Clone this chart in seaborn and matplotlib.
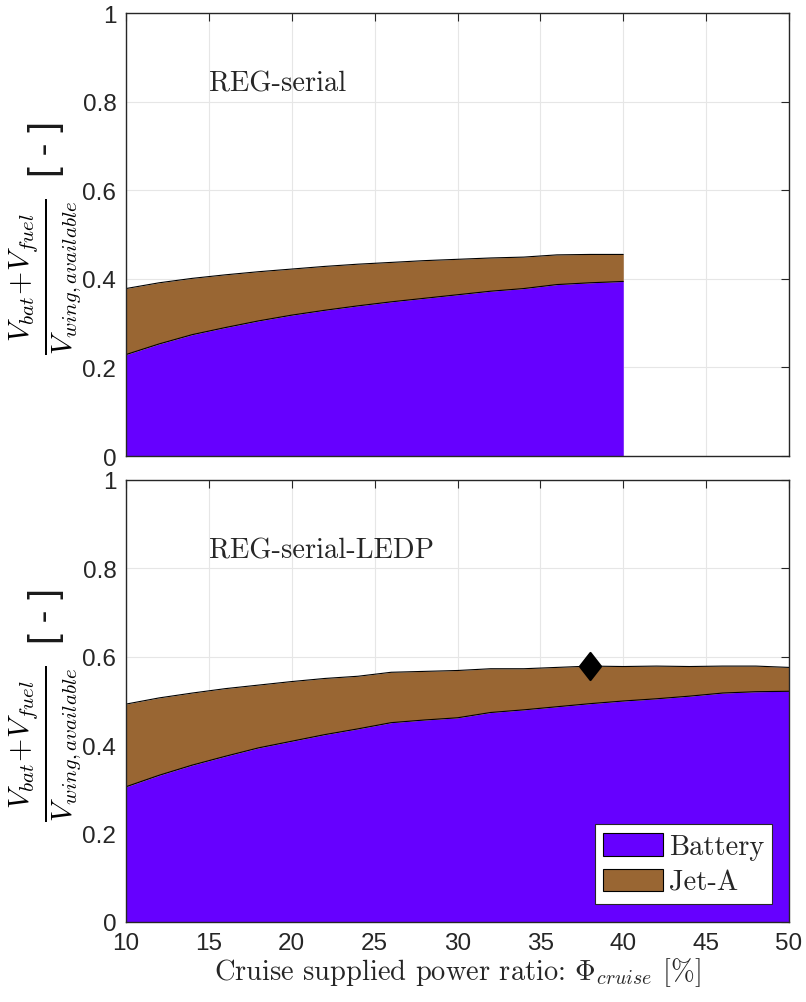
import numpy as np
import pandas as pd
import matplotlib
matplotlib.use("Agg")
import matplotlib.pyplot as plt
import seaborn as sns
from matplotlib.patches import Patch
from matplotlib.path import Path

# ---------------- data ----------------
x_top = [10, 12, 14, 16, 18, 20, 22, 24, 26, 28, 30, 32, 34, 36, 38, 40]
bat_top = [0.229, 0.253, 0.274, 0.290, 0.305, 0.318, 0.329, 0.339, 0.348, 0.356,
           0.364, 0.372, 0.378, 0.387, 0.391, 0.394]
tot_top = [0.378, 0.391, 0.401, 0.409, 0.416, 0.422, 0.428, 0.433, 0.437, 0.441,
           0.444, 0.447, 0.449, 0.454, 0.455, 0.455]

x_bot = [10, 12, 14, 16, 18, 20, 22, 24, 26, 28, 30, 32, 34, 36, 38, 40, 42, 44, 46, 48, 50]
bat_bot = [0.306, 0.332, 0.355, 0.375, 0.394, 0.409, 0.424, 0.437, 0.451, 0.457,
           0.462, 0.474, 0.480, 0.487, 0.494, 0.500, 0.505, 0.511, 0.518, 0.521, 0.522]
tot_bot = [0.493, 0.507, 0.518, 0.528, 0.536, 0.544, 0.551, 0.556, 0.565, 0.567,
           0.569, 0.573, 0.573, 0.576, 0.579, 0.578, 0.579, 0.578, 0.579, 0.579, 0.576]

opt_x = [38]
opt_y = [0.579]

titles = ["REG-serial", "REG-serial-LEDP"]
labels = ["Battery", "Jet-A"]
xticks = [10, 15, 20, 25, 30, 35, 40, 45, 50]
yticks = [0, 0.2, 0.4, 0.6, 0.8, 1]

c_bat = "#6600FF"
c_jet = "#996633"

# ---------------- style ----------------
sns.set_style("white")
plt.rcParams["font.family"] = ["Liberation Sans", "DejaVu Sans"]
plt.rcParams["mathtext.fontset"] = "cm"
axcol = "#262626"

fig = plt.figure(figsize=(8.06, 10.03), dpi=100)
L, R = 126 / 806, 789 / 806
ax1 = fig.add_axes([L, 1 - 457 / 1003, R - L, (457 - 14) / 1003])
ax2 = fig.add_axes([L, 1 - 923 / 1003, R - L, (923 - 481) / 1003])

panels = [(ax1, x_top, bat_top, tot_top), (ax2, x_bot, bat_bot, tot_bot)]
ylab = r"$\frac{V_{bat}\!+\!V_{fuel}}{V_{wing,available}}$"
yunit = "[ - ]"

units = []
for i, (ax, xs, bat, tot) in enumerate(panels):
    df = pd.DataFrame({"x": xs, "bat": bat, "tot": tot})
    ax.fill_between(df["x"], 0, df["bat"], color=c_bat, lw=0, zorder=2)
    ax.fill_between(df["x"], df["bat"], df["tot"], color=c_jet, lw=0, zorder=2)
    sns.lineplot(data=df, x="x", y="bat", ax=ax, color="black", lw=0.8, zorder=3)
    sns.lineplot(data=df, x="x", y="tot", ax=ax, color="black", lw=0.8, zorder=3)

    ax.set_xlim(10, 50)
    ax.set_ylim(0, 1)
    ax.set_xticks(xticks)
    ax.set_yticks(yticks)
    ax.set_yticklabels(["0", "0.2", "0.4", "0.6", "0.8", "1"])
    ax.grid(True, color="#e6e6e6", lw=0.8, zorder=0)
    ax.set_axisbelow(True)
    for s in ax.spines.values():
        s.set_color(axcol)
        s.set_linewidth(1.0)
        s.set_zorder(5)
    ax.tick_params(direction="in", length=6, width=0.8, color=axcol,
                   top=True, right=True, labelsize=17.5, labelcolor=axcol, pad=7)
    ax.set_xlabel("")
    ax.set_ylabel(ylab, fontsize=26, color="black")
    ax.yaxis.label.set_verticalalignment("center")
    ax.yaxis.label.set_horizontalalignment("center")
    ax.yaxis.label.set_rotation_mode("default")
    ax.yaxis.set_label_coords(-0.122, 0.407)
    u = ax.text(-0.121, 0.695, yunit, transform=ax.transAxes, rotation=90,
                fontsize=28, ha="center", va="center", color="#1a1a1a")
    units.append(u)
    ax.text(15, 0.842, titles[i], family="cmr10", fontsize=20.5, va="center", ha="left")

ax1.tick_params(labelbottom=False)

# size the rotated y-label fraction so that its extent matches the reference (~157 px long)
renderer = fig.canvas.get_renderer()
for _ in range(3):
    for ax in (ax1, ax2):
        lab = ax.yaxis.label
        bb = lab.get_window_extent(renderer)
        if bb.height > 0:
            lab.set_fontsize(lab.get_fontsize() * 157.0 / bb.height)

# optimum marker
diamond = Path([(0, 1), (0.78, 0), (0, -1), (-0.78, 0), (0, 1)],
               [Path.MOVETO, Path.LINETO, Path.LINETO, Path.LINETO, Path.CLOSEPOLY])
sns.scatterplot(x=opt_x, y=opt_y, ax=ax2, marker=diamond, s=19.5 ** 2,
                color="black", edgecolor="black", zorder=6, legend=False)

ax2.set_xlabel(r"Cruise supplied power ratio: $\Phi_{cruise}$ [%]",
               family="cmr10", fontsize=20.5, labelpad=1)

handles = [Patch(facecolor=c_bat, edgecolor="black", lw=0.8),
           Patch(facecolor=c_jet, edgecolor="black", lw=0.8)]
leg = ax2.legend(handles, labels, loc="lower right", bbox_to_anchor=(0.975, 0.04),
                 prop={"family": "cmr10", "size": 20.5}, frameon=True, fancybox=False,
                 framealpha=1, facecolor="white",
                 edgecolor=axcol, handlelength=2.1, handleheight=0.85,
                 handletextpad=0.2, borderpad=0.3, labelspacing=0.3, borderaxespad=0)
leg.get_frame().set_linewidth(0.8)
leg.set_zorder(10)

fig.savefig("out.png", dpi=100)
